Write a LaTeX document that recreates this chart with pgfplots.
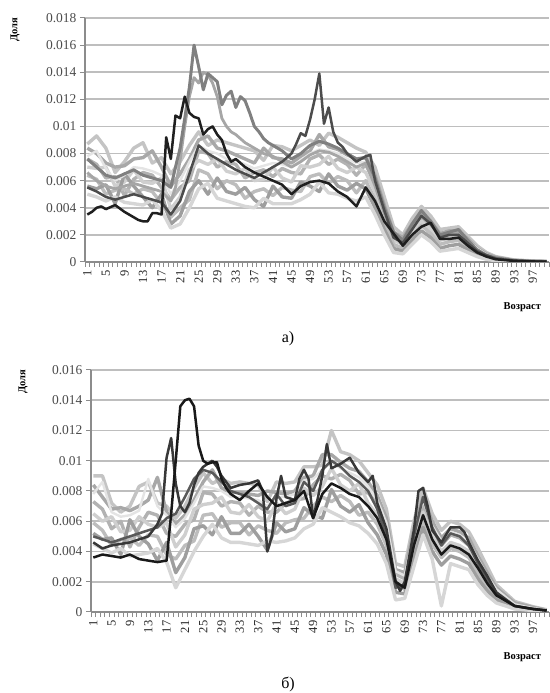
\documentclass[border=0pt]{standalone}
\usepackage{pgfplots}
\pgfplotsset{compat=1.18}
\usepackage{pgfplotstable}
\usepackage{fontspec}
\setmainfont{Liberation Serif}

% band of age-share curves, panel (a)
\pgfplotstableread{
age l1 l2 l3 l4 l5 l6 l7 l8
1 0.0087 0.0084 0.0076 0.0070 0.0064 0.0056 0.0050 0.0078
3 0.0093 0.0080 0.0072 0.0069 0.0061 0.0054 0.0048 0.0082
5 0.0084 0.0073 0.0062 0.0070 0.0050 0.0057 0.0045 0.0069
7 0.0066 0.0070 0.0063 0.0056 0.0053 0.0043 0.0048 0.0060
9 0.0074 0.0071 0.0049 0.0059 0.0054 0.0065 0.0044 0.0064
11 0.0084 0.0076 0.0061 0.0068 0.0050 0.0056 0.0043 0.0070
13 0.0088 0.0077 0.0066 0.0059 0.0054 0.0048 0.0042 0.0069
15 0.0073 0.0082 0.0064 0.0058 0.0052 0.0040 0.0046 0.0067
17 0.0077 0.0070 0.0055 0.0062 0.0043 0.0050 0.0038 0.0064
19 0.0065 0.0056 0.0046 0.0039 0.0033 0.0028 0.0025 0.0050
21 0.0074 0.0065 0.0055 0.0048 0.0040 0.0034 0.0028 0.0060
23 0.0086 0.0076 0.0060 0.0068 0.0046 0.0052 0.0040 0.0074
25 0.0096 0.0090 0.0082 0.0075 0.0068 0.0060 0.0054 0.0086
27 0.0086 0.0093 0.0080 0.0072 0.0065 0.0050 0.0058 0.0082
29 0.0090 0.0084 0.0070 0.0076 0.0054 0.0062 0.0047 0.0080
31 0.0088 0.0082 0.0074 0.0067 0.0060 0.0052 0.0045 0.0076
33 0.0086 0.0079 0.0072 0.0065 0.0057 0.0050 0.0043 0.0075
35 0.0084 0.0076 0.0062 0.0069 0.0047 0.0055 0.0041 0.0072
37 0.0082 0.0073 0.0066 0.0060 0.0052 0.0046 0.0040 0.0069
39 0.0075 0.0084 0.0068 0.0061 0.0054 0.0041 0.0047 0.0071
41 0.0086 0.0077 0.0063 0.0070 0.0049 0.0056 0.0043 0.0073
43 0.0085 0.0076 0.0069 0.0062 0.0055 0.0048 0.0043 0.0072
45 0.0082 0.0073 0.0066 0.0059 0.0053 0.0047 0.0043 0.0070
47 0.0086 0.0078 0.0065 0.0071 0.0052 0.0059 0.0046 0.0075
49 0.0090 0.0082 0.0076 0.0070 0.0063 0.0056 0.0050 0.0080
51 0.0086 0.0094 0.0079 0.0072 0.0065 0.0052 0.0059 0.0083
53 0.0095 0.0085 0.0072 0.0078 0.0058 0.0065 0.0051 0.0082
55 0.0092 0.0083 0.0076 0.0069 0.0063 0.0056 0.0050 0.0080
57 0.0088 0.0079 0.0072 0.0066 0.0060 0.0053 0.0047 0.0076
59 0.0084 0.0076 0.0064 0.0070 0.0051 0.0058 0.0045 0.0073
61 0.0081 0.0077 0.0072 0.0066 0.0060 0.0054 0.0048 0.0074
63 0.0070 0.0064 0.0058 0.0052 0.0046 0.0040 0.0035 0.0060
65 0.0048 0.0042 0.0037 0.0033 0.0029 0.0024 0.0020 0.0039
67 0.0026 0.0022 0.0019 0.0016 0.0013 0.0010 0.0007 0.0020
69 0.0020 0.0018 0.0015 0.0013 0.0010 0.0008 0.0006 0.0016
71 0.0032 0.0028 0.0025 0.0022 0.0019 0.0016 0.0013 0.0026
73 0.0041 0.0037 0.0033 0.0030 0.0027 0.0023 0.0020 0.0035
75 0.0034 0.0030 0.0027 0.0024 0.0021 0.0018 0.0015 0.0028
77 0.0024 0.0021 0.0018 0.0016 0.0013 0.0010 0.0008 0.0019
79 0.0025 0.0023 0.0020 0.0018 0.0015 0.0012 0.0009 0.0021
81 0.0026 0.0023 0.0021 0.0019 0.0016 0.0013 0.0010 0.0022
83 0.0019 0.0017 0.0015 0.0013 0.0011 0.0009 0.0007 0.0016
85 0.0012 0.0010 0.0009 0.0008 0.0007 0.0005 0.0004 0.0010
87 0.0007 0.0006 0.0005 0.00045 0.0004 0.0003 0.0002 0.00055
89 0.0004 0.00035 0.0003 0.00025 0.0002 0.00015 0.0001 0.0003
93 0.00015 0.00012 0.0001 0.0001 0.00008 0.00006 0.00005 0.00012
97 0.00008 0.00006 0.00005 0.00005 0.00004 0.00003 0.00003 0.00006
100 0.00004 0.00003 0.00003 0.00003 0.00002 0.00002 0.00001 0.00003
}\bandA

% band of age-share curves, panel (b)
\pgfplotstableread{
age l1 l2 l3 l4 l5 l6 l7 l8
1 0.0090 0.0084 0.0073 0.0065 0.0059 0.0052 0.0045 0.0078
3 0.0090 0.0076 0.0068 0.0060 0.0054 0.0048 0.0042 0.0086
5 0.0072 0.0068 0.0055 0.0063 0.0044 0.0049 0.0039 0.0066
7 0.0066 0.0069 0.0060 0.0053 0.0048 0.0038 0.0042 0.0063
9 0.0070 0.0067 0.0043 0.0054 0.0049 0.0061 0.0037 0.0064
11 0.0083 0.0070 0.0056 0.0063 0.0044 0.0050 0.0038 0.0067
13 0.0086 0.0074 0.0066 0.0058 0.0051 0.0045 0.0039 0.0088
15 0.0072 0.0089 0.0064 0.0056 0.0050 0.0034 0.0042 0.0070
17 0.0070 0.0066 0.0052 0.0059 0.0038 0.0046 0.0033 0.0064
19 0.0062 0.0058 0.0050 0.0043 0.0035 0.0026 0.0016 0.0056
21 0.0070 0.0064 0.0058 0.0051 0.0044 0.0036 0.0028 0.0062
23 0.0082 0.0074 0.0061 0.0068 0.0047 0.0055 0.0040 0.0072
25 0.0092 0.0086 0.0079 0.0071 0.0064 0.0057 0.0050 0.0083
27 0.0085 0.0094 0.0078 0.0072 0.0065 0.0051 0.0058 0.0082
29 0.0088 0.0082 0.0070 0.0076 0.0056 0.0063 0.0049 0.0080
31 0.0085 0.0079 0.0073 0.0066 0.0059 0.0052 0.0046 0.0076
33 0.0086 0.0079 0.0072 0.0065 0.0059 0.0052 0.0046 0.0076
35 0.0085 0.0078 0.0064 0.0071 0.0051 0.0058 0.0045 0.0075
37 0.0084 0.0077 0.0070 0.0063 0.0057 0.0050 0.0044 0.0074
39 0.0073 0.0080 0.0066 0.0060 0.0054 0.0041 0.0047 0.0070
41 0.0086 0.0079 0.0066 0.0072 0.0052 0.0059 0.0046 0.0076
43 0.0085 0.0078 0.0072 0.0065 0.0059 0.0053 0.0047 0.0076
45 0.0086 0.0080 0.0074 0.0068 0.0061 0.0055 0.0049 0.0078
47 0.0096 0.0089 0.0075 0.0082 0.0062 0.0069 0.0055 0.0087
49 0.0096 0.0090 0.0084 0.0077 0.0070 0.0064 0.0058 0.0088
51 0.0097 0.0104 0.0090 0.0083 0.0076 0.0062 0.0069 0.0094
53 0.0120 0.0104 0.0088 0.0095 0.0073 0.0081 0.0066 0.0099
55 0.0106 0.0099 0.0091 0.0084 0.0077 0.0070 0.0063 0.0095
57 0.0104 0.0095 0.0087 0.0080 0.0073 0.0066 0.0059 0.0092
59 0.0100 0.0093 0.0078 0.0085 0.0064 0.0071 0.0057 0.0089
61 0.0092 0.0086 0.0079 0.0072 0.0066 0.0059 0.0052 0.0083
63 0.0084 0.0077 0.0071 0.0064 0.0058 0.0051 0.0045 0.0074
65 0.0068 0.0062 0.0056 0.0050 0.0044 0.0038 0.0032 0.0059
67 0.0032 0.0028 0.0025 0.0022 0.0018 0.0013 0.0008 0.0027
69 0.0030 0.0026 0.0022 0.0019 0.0015 0.0012 0.0009 0.0024
71 0.0060 0.0055 0.0050 0.0045 0.0040 0.0035 0.0030 0.0052
73 0.0082 0.0076 0.0071 0.0066 0.0061 0.0056 0.0051 0.0074
75 0.0065 0.0060 0.0055 0.0050 0.0045 0.0040 0.0035 0.0057
77 0.0054 0.0049 0.0044 0.0040 0.0036 0.0031 0.0004 0.0047
79 0.0060 0.0055 0.0051 0.0046 0.0042 0.0037 0.0032 0.0053
81 0.0058 0.0053 0.0049 0.0044 0.0040 0.0035 0.0030 0.0051
83 0.0053 0.0049 0.0044 0.0040 0.0036 0.0032 0.0028 0.0046
85 0.0042 0.0037 0.0034 0.0030 0.0026 0.0022 0.0018 0.0035
87 0.0030 0.0026 0.0023 0.0020 0.0017 0.0014 0.0011 0.0024
89 0.0018 0.0016 0.0014 0.0012 0.0010 0.0008 0.0006 0.0015
93 0.0007 0.0006 0.0005 0.0004 0.00035 0.0003 0.0002 0.0005
97 0.00035 0.0003 0.00025 0.0002 0.00015 0.00012 0.0001 0.00025
100 0.00015 0.00012 0.0001 0.0001 0.00008 0.00006 0.00005 0.00012
}\bandB

\definecolor{c1}{HTML}{C4C4C4}
\definecolor{c2}{HTML}{B2B2B2}
\definecolor{c3}{HTML}{D6D6D6}
\definecolor{c4}{HTML}{A8A8A8}
\definecolor{c5}{HTML}{BDBDBD}
\definecolor{c6}{HTML}{CFCFCF}
\definecolor{c7}{HTML}{9E9E9E}
\definecolor{c8}{HTML}{E4E4E4}
\definecolor{gridgray}{HTML}{BEBEBE}
\definecolor{axisgray}{HTML}{8C8C8C}

\pgfplotsset{
  panel/.style={
    scale only axis,
    xmin=0.5, xmax=100.5, ymin=0,
    axis x line*=bottom, axis y line*=left,
    axis line style={draw=axisgray, line width=1.3pt},
    xtick={1,5,...,97},
    minor xtick={0.5,1.5,...,100.5},
    major x tick style={draw=none},
    minor x tick style={draw=axisgray, line width=0.8pt},
    major y tick style={draw=axisgray, line width=1pt},
    tick align=outside, major tick length=5pt, minor tick length=5pt,
    ymajorgrids, major grid style={draw=gridgray, line width=1.8pt},
    scaled y ticks=false,
    yticklabel style={/pgf/number format/fixed, /pgf/number format/precision=3,
      /pgf/number format/assume math mode=true,
      font=\fontsize{13.5}{13.5}\selectfont, text=black!70},
    xticklabel style={rotate=90, anchor=east,
      /pgf/number format/assume math mode=true,
      font=\fontsize{12.5}{12.5}\selectfont, text=black!85},
    every axis plot/.append style={line width=3.4pt, mark=none, line join=round},
  },
}

\newcommand{\bandlines}[1]{%
  \addplot[draw=c1] table[x=age,y=l1]{#1};
  \addplot[draw=c4] table[x=age,y=l2]{#1};
  \addplot[draw=c2] table[x=age,y=l3]{#1};
  \addplot[draw=c6] table[x=age,y=l4]{#1};
  \addplot[draw=c5] table[x=age,y=l5]{#1};
  \addplot[draw=c7] table[x=age,y=l6]{#1};
  \addplot[draw=c3] table[x=age,y=l7]{#1};
  \addplot[draw=c8, line width=2.4pt] table[x=age,y=l8]{#1};
}

\begin{document}
\begin{tikzpicture}
\useasboundingbox (0,0) rectangle (549pt,693pt);

% ---------- panel (a) ----------
\begin{axis}[panel, at={(85pt,431pt)}, anchor=south west,
  width=464pt, height=244pt, ymax=0.018,
  ytick={0,0.002,0.004,0.006,0.008,0.01,0.012,0.014,0.016,0.018}]
\bandlines{\bandA}
\addplot[draw=black!35, line width=2.8pt] coordinates {
(1,0.0066)(3,0.0060)(5,0.0056)(7,0.0054)(9,0.0056)(11,0.0058)(13,0.0056)(15,0.0054)(17,0.0052)(19,0.0045)(20,0.0055)(21,0.0075)(22,0.0100)(23,0.0122)(24,0.0136)(25,0.0132)(26,0.0140)(27,0.0138)(28,0.0132)(29,0.0122)(30,0.0106)(31,0.0100)(32,0.0096)(33,0.0094)(35,0.0088)(37,0.0084)(39,0.0080)(41,0.0078)(43,0.0074)(45,0.0070)(47,0.0074)(49,0.0079)(51,0.0082)(53,0.0081)(55,0.0078)(57,0.0074)(59,0.0070)(61,0.0073)(63,0.0056)(65,0.0036)(67,0.0018)(69,0.0015)(71,0.0026)(73,0.0036)(75,0.0029)(77,0.0019)(79,0.0021)(81,0.0022)(83,0.0015)(85,0.0009)(87,0.0005)(89,0.0003)(93,0.0001)(97,0.00005)(100,0.00003)};
\addplot[draw=black!50, line width=3pt] coordinates {
(1,0.0076)(3,0.0070)(5,0.0064)(7,0.0062)(9,0.0065)(11,0.0068)(13,0.0064)(15,0.0062)(17,0.0060)(19,0.0055)(20,0.0070)(21,0.0084)(22,0.0106)(23,0.0129)(24,0.0160)(25,0.0144)(26,0.0127)(27,0.0139)(28,0.0136)(29,0.0133)(30,0.0116)(31,0.0123)(32,0.0126)(33,0.0114)(34,0.0122)(35,0.0119)(36,0.0110)(37,0.0100)(38,0.0096)(39,0.0091)(40,0.0088)(41,0.0086)(43,0.0082)(45,0.0076)(47,0.0080)(49,0.0086)(51,0.0089)(53,0.0087)(55,0.0084)(57,0.0080)(59,0.0076)(61,0.0077)(63,0.0062)(65,0.0040)(67,0.0022)(69,0.0016)(71,0.0028)(73,0.0038)(75,0.0030)(77,0.0020)(79,0.0022)(81,0.0024)(83,0.0016)(85,0.0009)(87,0.0005)(89,0.0003)(93,0.00012)(97,0.00006)(100,0.00003)};
\addplot[draw=black!70, line width=2.5pt] coordinates {
(1,0.0055)(3,0.0052)(5,0.0048)(7,0.0046)(9,0.0048)(11,0.0050)(13,0.0048)(15,0.0046)(17,0.0044)(19,0.0035)(21,0.0045)(23,0.0065)(25,0.0086)(27,0.0080)(29,0.0076)(31,0.0072)(33,0.0068)(35,0.0065)(37,0.0062)(39,0.0066)(41,0.0070)(43,0.0074)(45,0.0080)(46,0.0087)(47,0.0095)(48,0.0093)(49,0.0105)(50,0.0120)(51,0.0139)(52,0.0102)(53,0.0114)(54,0.0096)(55,0.0088)(56,0.0085)(57,0.0080)(59,0.0074)(61,0.0078)(62,0.0079)(63,0.0060)(65,0.0038)(67,0.0018)(69,0.0014)(71,0.0024)(73,0.0034)(75,0.0028)(77,0.0018)(79,0.0020)(81,0.0020)(83,0.0014)(85,0.0008)(87,0.0005)(89,0.00025)(93,0.0001)(97,0.00005)(100,0.00003)};
\addplot[draw=black!88, line width=2.5pt] coordinates {
(1,0.0035)(2,0.0037)(3,0.0040)(4,0.0041)(5,0.0039)(7,0.0042)(9,0.0037)(10,0.0035)(11,0.0033)(12,0.0031)(13,0.0030)(14,0.0030)(15,0.0036)(16,0.0036)(17,0.0035)(18,0.0092)(19,0.0076)(20,0.0108)(21,0.0106)(22,0.0122)(23,0.0110)(24,0.0107)(25,0.0106)(26,0.0094)(27,0.0098)(28,0.0100)(29,0.0094)(30,0.0090)(31,0.0080)(32,0.0074)(33,0.0076)(35,0.0070)(37,0.0066)(39,0.0063)(41,0.0060)(43,0.0057)(45,0.0050)(47,0.0056)(49,0.0059)(51,0.0060)(53,0.0058)(55,0.0052)(57,0.0048)(59,0.0041)(61,0.0055)(63,0.0045)(65,0.0030)(67,0.0021)(69,0.0012)(71,0.0020)(73,0.0026)(75,0.0029)(77,0.0017)(79,0.0017)(81,0.0018)(83,0.0012)(85,0.0007)(87,0.0004)(89,0.0002)(93,0.00008)(97,0.00004)(100,0.00002)};
\end{axis}

% ---------- panel (b) ----------
\begin{axis}[panel, at={(91pt,81pt)}, anchor=south west,
  width=458pt, height=242pt, ymax=0.016,
  ytick={0,0.002,0.004,0.006,0.008,0.01,0.012,0.014,0.016}]
\bandlines{\bandB}
\addplot[draw=black!65, line width=2.5pt] coordinates {
(1,0.0050)(3,0.0048)(5,0.0046)(7,0.0048)(9,0.0050)(11,0.0052)(13,0.0054)(15,0.0056)(17,0.0062)(19,0.0065)(21,0.0076)(23,0.0088)(25,0.0094)(27,0.0092)(29,0.0086)(31,0.0080)(33,0.0078)(35,0.0076)(37,0.0072)(39,0.0068)(41,0.0078)(43,0.0070)(45,0.0072)(47,0.0086)(49,0.0080)(51,0.0094)(53,0.0100)(55,0.0096)(57,0.0090)(59,0.0086)(61,0.0080)(63,0.0068)(65,0.0050)(67,0.0016)(69,0.0018)(71,0.0050)(73,0.0076)(75,0.0056)(77,0.0044)(79,0.0052)(81,0.0050)(83,0.0044)(85,0.0032)(87,0.0022)(89,0.0012)(93,0.0004)(97,0.0002)(100,0.0001)};
\addplot[draw=black!78, line width=2.5pt] coordinates {
(1,0.0046)(3,0.0042)(5,0.0044)(7,0.0045)(9,0.0046)(11,0.0048)(13,0.0050)(15,0.0058)(16,0.0065)(17,0.0102)(18,0.0115)(19,0.0085)(20,0.0070)(21,0.0066)(22,0.0072)(23,0.0084)(24,0.0092)(25,0.0096)(26,0.0098)(27,0.0100)(28,0.0096)(29,0.0090)(30,0.0086)(31,0.0082)(33,0.0084)(35,0.0085)(37,0.0087)(38,0.0080)(39,0.0040)(40,0.0050)(41,0.0075)(42,0.0090)(43,0.0076)(45,0.0074)(46,0.0088)(47,0.0094)(48,0.0088)(49,0.0062)(50,0.0075)(51,0.0090)(52,0.0111)(53,0.0095)(55,0.0098)(57,0.0102)(59,0.0092)(61,0.0086)(62,0.0090)(63,0.0072)(65,0.0055)(67,0.0020)(68,0.0014)(69,0.0020)(71,0.0054)(72,0.0080)(73,0.0082)(74,0.0070)(75,0.0054)(77,0.0046)(79,0.0056)(81,0.0056)(82,0.0053)(83,0.0046)(85,0.0034)(87,0.0024)(89,0.0013)(93,0.0004)(97,0.0002)(100,0.0001)};
\addplot[draw=black!90, line width=2.5pt] coordinates {
(1,0.0036)(3,0.0038)(5,0.0037)(7,0.0036)(9,0.0038)(11,0.0035)(13,0.0034)(15,0.0033)(17,0.0034)(18,0.0065)(19,0.0100)(20,0.0136)(21,0.0140)(22,0.0141)(23,0.0136)(24,0.0110)(25,0.0100)(26,0.0098)(27,0.0099)(28,0.0099)(29,0.0088)(30,0.0082)(31,0.0078)(33,0.0074)(35,0.0080)(37,0.0085)(39,0.0076)(41,0.0070)(43,0.0072)(45,0.0074)(47,0.0080)(49,0.0062)(51,0.0078)(53,0.0085)(55,0.0082)(57,0.0078)(59,0.0076)(61,0.0070)(63,0.0062)(65,0.0048)(67,0.0020)(69,0.0016)(71,0.0044)(73,0.0064)(75,0.0048)(77,0.0038)(79,0.0044)(81,0.0042)(83,0.0038)(85,0.0029)(87,0.0019)(89,0.0011)(93,0.0004)(97,0.0002)(100,0.0001)};
\end{axis}

% axis titles and panel captions
\node[rotate=90, font=\bfseries\fontsize{10.5}{10.5}\selectfont] at (15pt,663pt) {Доля};
\node[anchor=west, font=\bfseries\fontsize{10.5}{10.5}\selectfont] at (500pt,386pt) {Возраст};
\node[font=\fontsize{16}{16}\selectfont] at (288pt,354pt) {а)};
\node[rotate=90, font=\bfseries\fontsize{10.5}{10.5}\selectfont] at (23pt,311pt) {Доля};
\node[anchor=west, font=\bfseries\fontsize{10.5}{10.5}\selectfont] at (500pt,36pt) {Возраст};
\node[font=\fontsize{16}{16}\selectfont] at (288pt,9pt) {б)};
\end{tikzpicture}
\end{document}
